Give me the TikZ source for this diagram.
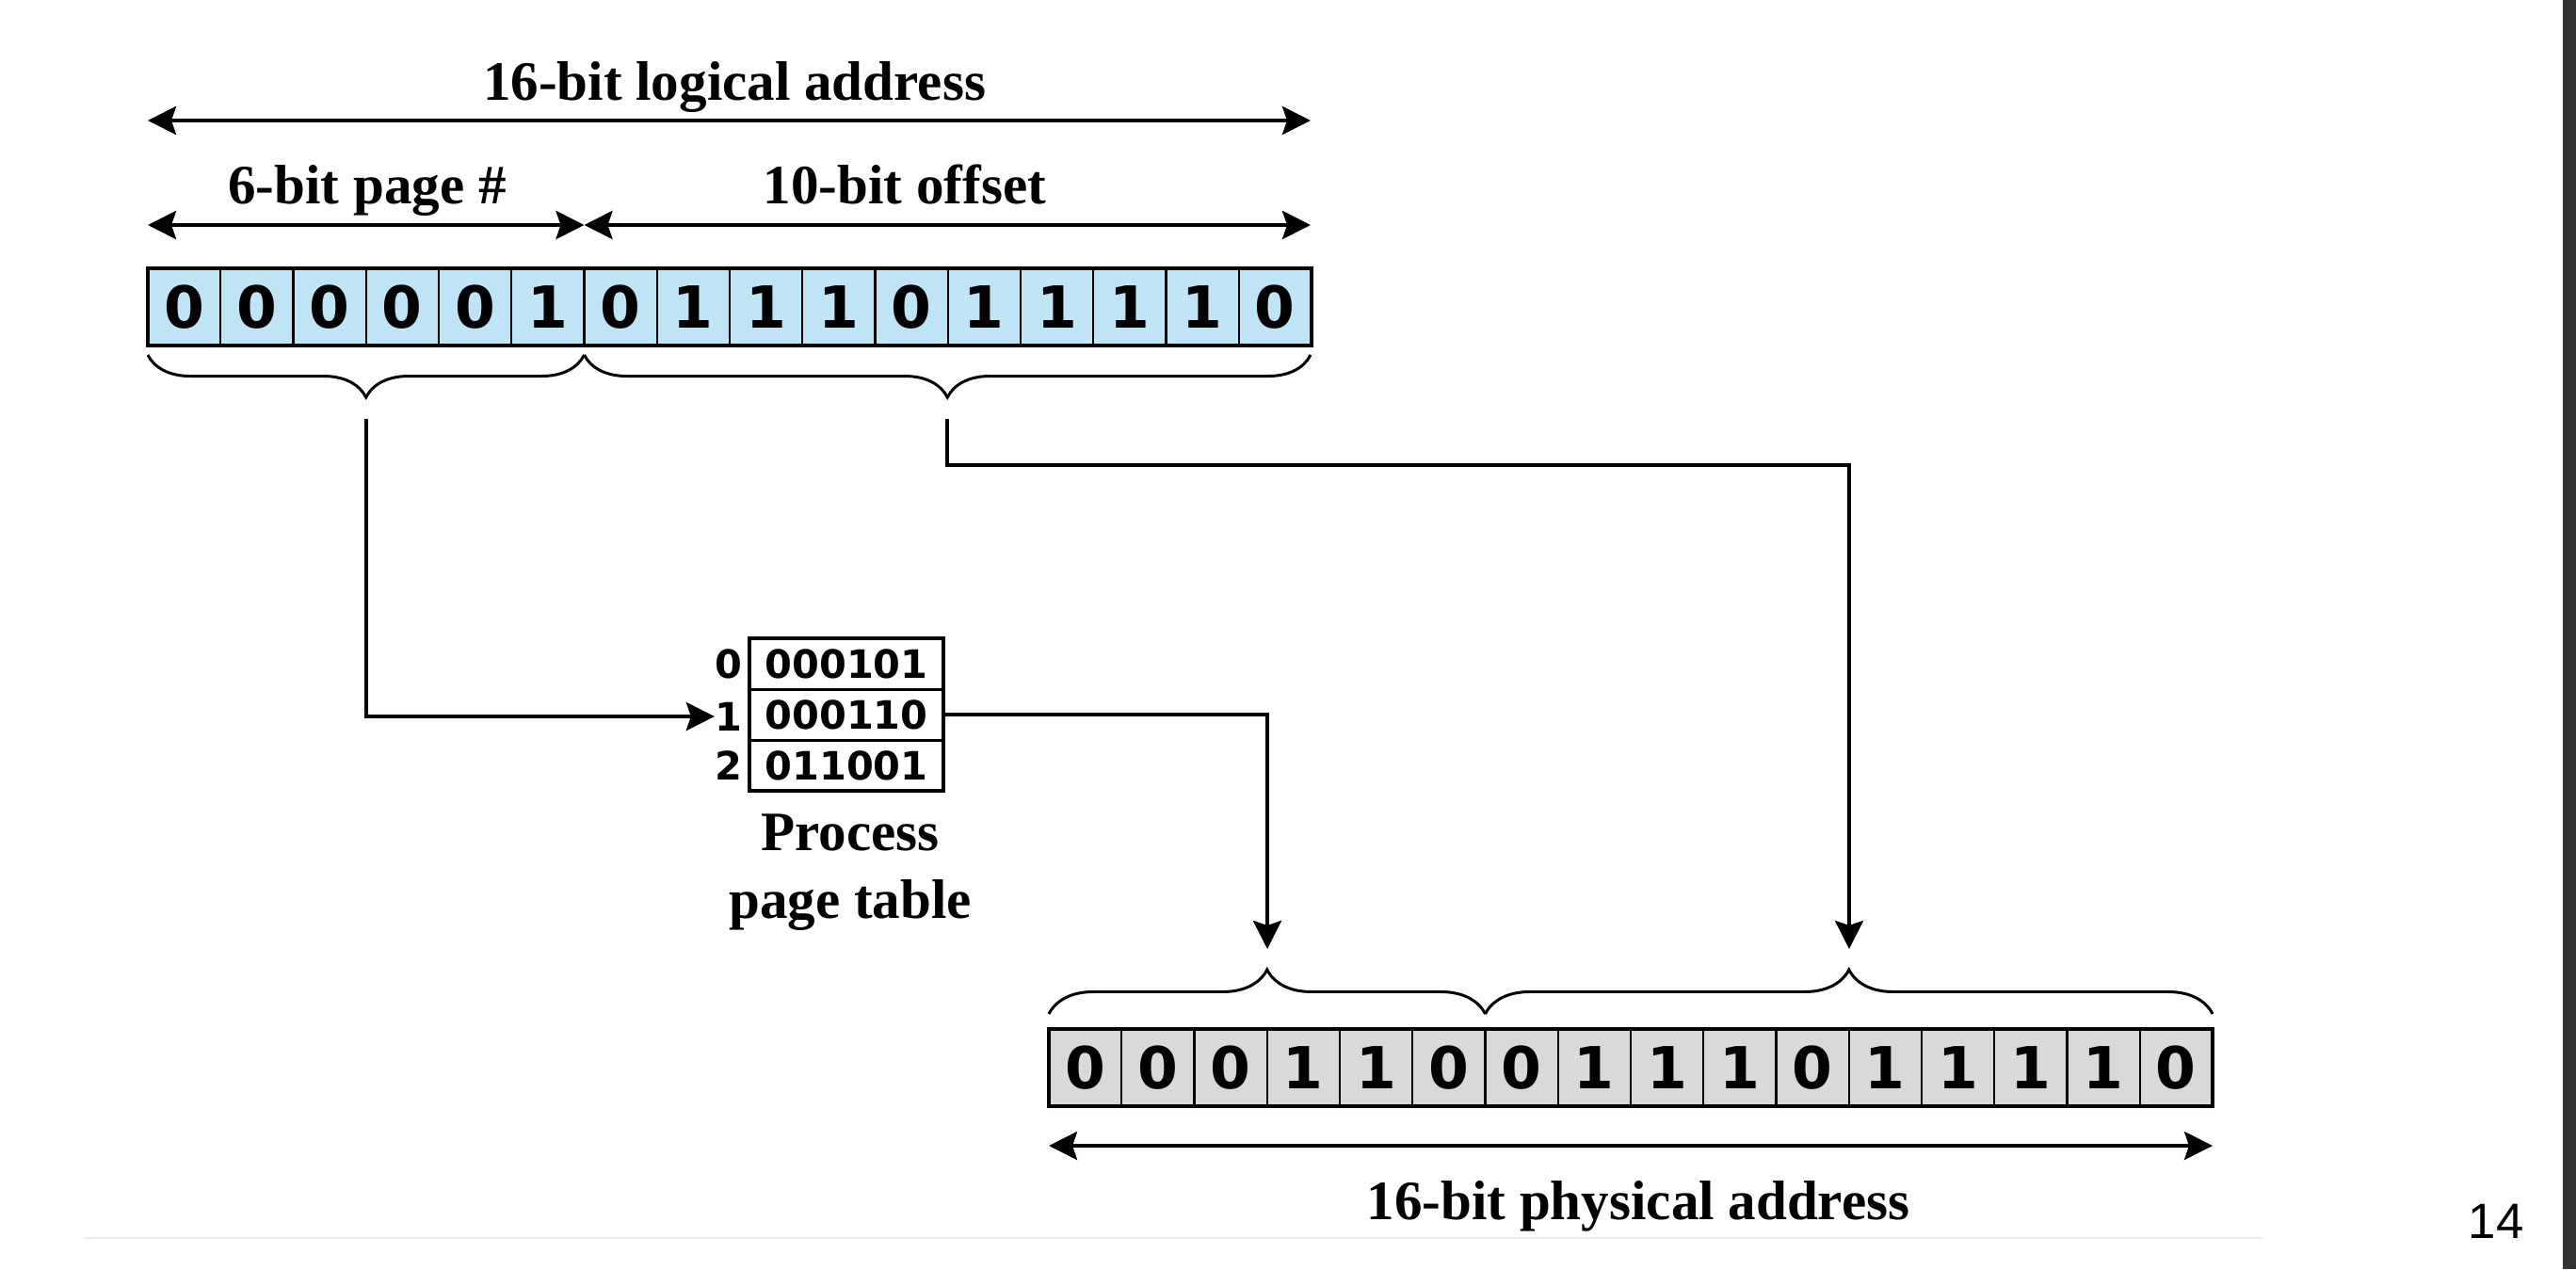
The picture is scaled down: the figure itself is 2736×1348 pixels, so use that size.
\documentclass[tikz,border=0pt]{standalone}
\usepackage{fontspec}
\setmainfont{Liberation Serif}
\newfontfamily\digf{DejaVu Sans}
\newfontfamily\sansf{Liberation Sans}
\usetikzlibrary{arrows.meta,decorations.pathreplacing,calc}
\definecolor{cellblue}{HTML}{BFE4F6}
\definecolor{cellgray}{HTML}{D9D9D9}
\tikzset{
  lbl/.style={font=\bfseries\fontsize{16.8}{20}\selectfont, inner sep=0pt, anchor=base},
  bigbit/.style={draw, line width=0.7pt, inner sep=0pt, outer sep=0pt,
    minimum width=0.7725cm, minimum height=0.82cm,
    font=\digf\bfseries\fontsize{17.5}{20}\selectfont},
  ptrow/.style={draw, line width=0.85pt, inner sep=0pt, outer sep=0pt,
    minimum width=2.06cm, minimum height=0.54cm,
    font=\digf\bfseries\fontsize{11.8}{14}\selectfont},
  ptidx/.style={inner sep=0pt, font=\digf\bfseries\fontsize{11.8}{14}\selectfont},
  dimarrow/.style={line width=1.15pt, {Stealth[length=0.3cm,width=0.3cm,inset=0.05cm]}-{Stealth[length=0.3cm,width=0.3cm,inset=0.05cm]}},
  conn/.style={line width=1.15pt, -{Stealth[length=0.3cm,width=0.3cm,inset=0.05cm]}},
  bracestyle/.style={line width=0.85pt, decorate},
}
\begin{document}
\begin{tikzpicture}[x=0.01cm,y=-0.01cm]
\useasboundingbox (0,0) rectangle (2736,1348);
\fill[white] (0,0) rectangle (2736,1348);
\fill[black!80] (2722,0) rectangle (2736,1348);
\draw[black!8, line width=0.6pt] (90,1315) -- (2402,1315);

% ---------- logical address ----------
\node[lbl] (laddr) at (780,106) {16-bit logical address};
\coordinate (lL) at (157,128); \coordinate (lR) at (1392,128);
\draw[dimarrow] (lL) -- (lR);
\node[lbl] (pgno) at (390,216) {6-bit page \#};
\node[lbl] (offs) at (961,216) {10-bit offset};
\coordinate (sL) at (157,239); \coordinate (sM) at (620.5,239); \coordinate (sR) at (1392,239);
\draw[dimarrow] (sL) -- (sM);
\draw[dimarrow] (sM) -- (sR);

\foreach \b [count=\i] in {0,0,0,0,0,1,0,1,1,1,0,1,1,1,1,0}
  \node[bigbit, fill=cellblue] (t\i) at ({157+77.25*(\i-0.5)},326) {\b};
\draw[line width=1.35pt] (t1.north west) rectangle (t16.south east);

\draw[bracestyle, decoration={brace, mirror, amplitude=0.45cm}] (157,377) -- (620.5,377);
\draw[bracestyle, decoration={brace, mirror, amplitude=0.45cm}] (620.5,377) -- (1392,377);
\coordinate (pgtip) at (388.7,445);
\coordinate (offtip) at (1006,445);

% ---------- page table ----------
\node[ptrow] (p0) at (899,705) {000101};
\node[ptrow] (p1) at (899,759) {000110};
\node[ptrow] (p2) at (899,813) {011001};
\draw[line width=1.15pt] (p0.north west) rectangle (p2.south east);
\node[ptidx] (i0) at (774,705) {0};
\node[ptidx] (i1) at (774,761) {1};
\node[ptidx] (i2) at (774,813) {2};
\node[lbl] (ptl1) at (903,903) {Process};
\node[lbl] (ptl2) at (903,975) {page table};

% ---------- physical address ----------
\foreach \b [count=\i] in {0,0,0,1,1,0,0,1,1,1,0,1,1,1,1,0}
  \node[bigbit, fill=cellgray] (b\i) at ({1114+77.25*(\i-0.5)},1134) {\b};
\draw[line width=1.35pt] (b1.north west) rectangle (b16.south east);

\draw[bracestyle, decoration={brace, amplitude=0.47cm}] (1114,1077) -- (1577.5,1077);
\draw[bracestyle, decoration={brace, amplitude=0.47cm}] (1577.5,1077) -- (2350,1077);
\coordinate (frin) at (1346,1008);
\coordinate (ofin) at (1964,1008);

\coordinate (pL) at (1114,1217); \coordinate (pR) at (2350,1217);
\draw[dimarrow] (pL) -- (pR);
\node[lbl] (paddr) at (1740,1295) {16-bit physical address};

% ---------- connectors ----------
\draw[conn] (pgtip) |- (i1.west);
\coordinate (offturn) at (1006,494);
\draw[conn] (offtip) -- (offturn) -| (ofin);
\draw[conn] (p1.east) -| (frin);

\node[font=\sansf\fontsize{15}{18}\selectfont, inner sep=0pt, anchor=base] (pnum) at (2651,1315) {14};
\end{tikzpicture}
\end{document}
